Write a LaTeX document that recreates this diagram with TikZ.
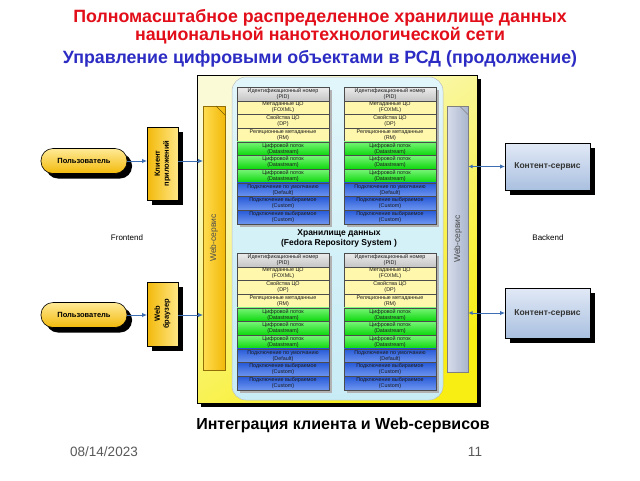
\documentclass[tikz,border=0pt]{standalone}
\usepackage{fontspec}
\setmainfont{Liberation Sans}
\usetikzlibrary{arrows.meta,shadows,calc}
\definecolor{titlered}{RGB}{226,14,26}
\definecolor{titleblue}{RGB}{44,44,196}
\definecolor{frameyel}{RGB}{248,238,20}
\definecolor{framepale}{RGB}{250,250,215}
\definecolor{repofill}{RGB}{200,236,246}
\definecolor{repolight}{RGB}{225,246,250}
\definecolor{rowyel}{RGB}{255,247,172}
\definecolor{greenL}{RGB}{120,245,120}
\definecolor{greenD}{RGB}{10,215,10}
\definecolor{blueD}{RGB}{40,90,215}
\definecolor{blueL}{RGB}{110,150,240}
\definecolor{goldD}{RGB}{242,185,10}
\definecolor{goldL}{RGB}{255,220,80}
\definecolor{wsgreyL}{RGB}{214,220,234}
\definecolor{wsgreyD}{RGB}{168,180,204}
\definecolor{arrowblue}{RGB}{60,110,180}
\definecolor{csL}{RGB}{225,233,246}
\definecolor{csD}{RGB}{170,192,224}
\newcommand\reptable[3]{%
  \fill[black!30] (#2+3, #3+3) rectangle (#2+95, {#3+3+10*13.7});
  \foreach \i/\sty/\a/\b in {1/rgrey/Идентификационный номер/(PID),
      2/ryel/Метаданные ЦО/(FOXML), 3/ryel/Свойства ЦО/(DP),
      4/ryel/Реляционные метаданные/(RM),
      5/rgreen/Цифровой поток/(Datastream), 6/rgreen/Цифровой поток/(Datastream),
      7/rgreen/Цифровой поток/(Datastream),
      8/rblue/Подключение по умолчанию/(Default),
      9/rblue/Подключение выбираемое/(Custom),
      10/rblue/Подключение выбираемое/(Custom)}{
    \node[rowcell,\sty] (#1-\i) at (#2, {#3+(\i-1)*13.7}) {\a\\\b};
  }%
}
\begin{document}
\begin{tikzpicture}[x=1pt,y=-1pt,
  every node/.style={inner sep=0pt, outer sep=0pt},
  rowcell/.style={draw=black!70, line width=0.4pt, minimum width=92pt,
    minimum height=13.7pt, anchor=north west, align=center,
    font=\fontsize{5.4}{5.9}\selectfont, text=black!90},
  rgrey/.style={top color=gray!15, bottom color=gray!45},
  ryel/.style={fill=rowyel},
  rgreen/.style={top color=greenL, bottom color=greenD},
  rblue/.style={top color=blueD, bottom color=blueL},
  title/.style={font=\fontsize{17.8}{20}\bfseries\selectfont},
  pill/.style={draw=black, line width=0.6pt, rounded corners=12pt,
    minimum width=86pt, minimum height=25pt, top color=goldL!60!white,
    bottom color=goldD, font=\fontsize{7.5}{9}\bfseries\selectfont,
    drop shadow={shadow xshift=5pt, shadow yshift=-5pt, fill=black, opacity=1}},
  client/.style={draw=black, line width=0.6pt, minimum width=31pt,
    left color=goldD, right color=goldL!70!white,
    drop shadow={shadow xshift=5pt, shadow yshift=-5pt, fill=black, opacity=1}},
  cserv/.style={draw=black, line width=0.6pt, minimum width=85pt,
    top color=csL, bottom color=csD, font=\fontsize{8.5}{10}\bfseries\selectfont,
    text=black!80,
    drop shadow={shadow xshift=5pt, shadow yshift=-5pt, fill=black, opacity=1}},
  conn/.style={draw=arrowblue, line width=0.9pt, -{Latex[length=5pt,width=4.5pt]}},
  bconn/.style={draw=arrowblue, line width=0.9pt,
    {Latex[length=4pt,width=4pt]}-{Latex[length=5pt,width=4.5pt]}},
  wstext/.style={rotate=90, font=\fontsize{8.5}{10}\selectfont, text=black!70},
  plain/.style={font=\fontsize{8}{10}\selectfont}
]
\useasboundingbox (0,0) rectangle (640,480);
\fill[white] (0,0) rectangle (640,480);

% titles
\node[title, text=titlered] (t1) at (320,18) {Полномасштабное распределенное хранилище данных};
\node[title, text=titlered] (t2) at (320,36) {национальной нанотехнологической сети};
\node[title, text=titleblue] (t3) at (320,59) {Управление цифровыми объектами в РСД (продолжение)};

% outer frame
\fill[black] (201,79) rectangle (481,407);
\node[draw=black, line width=1pt, minimum width=280pt, minimum height=328pt,
  shading=axis, top color=framepale, middle color=frameyel!80!framepale,
  bottom color=frameyel, shading angle=35] (frame) at (337,239) {};

% web-service bars
\node[draw=goldD!60!black, line width=0.5pt, minimum width=22pt, minimum height=264pt,
  left color=goldL, right color=goldD] (wsL) at (214,238) {};
\draw[goldD!50!black, line width=0.5pt] (216,106) -- (225,115);
\node[wstext] (wsLt) at (wsL) {Web-сервис};
\node[draw=black!50, line width=0.5pt, minimum width=21pt, minimum height=266pt,
  left color=wsgreyL, right color=wsgreyD] (wsR) at (458,239) {};
\draw[black!50, line width=0.5pt] (459.5,106) -- (468.5,115);
\node[wstext] (wsRt) at (wsR) {Web-сервис};

% repository region
\node[draw=black!25, line width=0.5pt, rounded corners=14pt, minimum width=211pt,
  minimum height=323pt, top color=repolight, bottom color=repofill] (repo) at (337.5,238.5) {};

% tables
\reptable{tl}{237}{87}
\reptable{tr}{344}{87}
\reptable{bl}{237}{253}
\reptable{br}{344}{253}
\node[font=\fontsize{8.5}{10}\bfseries\selectfont, align=center] (repot) at (339,238.5)
  {Хранилище данных\\(Fedora Repository System )};

% clients
\node[pill] (p1) at (84,161) {Пользователь};
\node[pill] (p2) at (84,315) {Пользователь};
\node[client, minimum height=73pt] (cl1) at (162.5,163.5) {};
\node[rotate=90, align=center, font=\fontsize{7.5}{9}\bfseries\selectfont] (cl1t) at (cl1) {Клиент\\приложений};
\node[client, minimum height=64pt] (wb) at (162.5,314) {};
\node[rotate=90, align=center, font=\fontsize{7.5}{9}\bfseries\selectfont] (wbt) at (wb) {Web\\браузер};

\draw[conn] (p1.east) -- (p1.east -| cl1.west);
\draw[conn] (cl1.east |- p1) -- (p1 -| wsL.west);
\draw[conn] (p2.east) -- (p2.east -| wb.west);
\draw[conn] (wb.east |- p2) -- (p2 -| wsL.west);

% content services
\node[cserv, minimum height=47pt] (cs1) at (547.5,166.5) {Контент-сервис};
\node[cserv, minimum height=50pt] (cs2) at (547.5,313) {Контент-сервис};
\draw[bconn] (wsR.east |- cs1) -- (cs1.west);
\draw[bconn] (wsR.east |- cs2) -- (cs2.west);

\node[plain] (fe) at (127,238) {Frontend};
\node[plain] (be) at (548,238) {Backend};

% footer
\node[font=\fontsize{16}{18}\bfseries\selectfont] (cap) at (343,425) {Интеграция клиента и Web-сервисов};
\node[font=\fontsize{13.5}{15}\selectfont, text=black!65] (date) at (104,452) {08/14/2023};
\node[font=\fontsize{13.5}{15}\selectfont, text=black!65] (pg) at (475,452) {11};
\end{tikzpicture}
\end{document}
